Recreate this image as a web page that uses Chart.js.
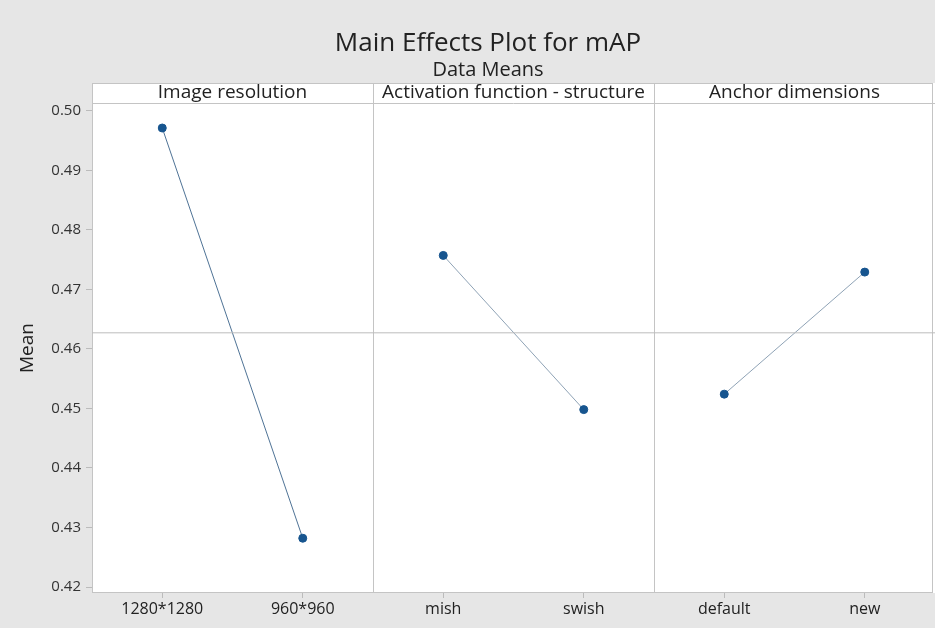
<!DOCTYPE html>
<html>
<head>
<meta charset="utf-8">
<script src="https://cdn.jsdelivr.net/npm/chart.js@4.4.1/dist/chart.umd.min.js"></script>
<style>
  html, body { margin: 0; padding: 0; background: #e6e6e6; }
  #wrap { width: 935px; height: 628px; position: relative; }
</style>
</head>
<body>
<div id="wrap"><canvas id="chart" width="935" height="628"></canvas></div>
<script>
// panels (factors) and their levels
const factors = ['Image resolution', 'Activation function - structure', 'Anchor dimensions']
const levels = [['1280*1280', '960*960'], ['mish', 'swish'], ['default', 'new']]
// means
const meanImage = [0.4971, 0.4282]
const meanActivation = [0.4757, 0.4498]
const meanAnchor = [0.4524, 0.4729]
const grandMean = 0.4627
const yTicks = [0.42, 0.43, 0.44, 0.45, 0.46, 0.47, 0.48, 0.49, 0.50]

const FONT = "'Open Sans', 'DejaVu Sans', sans-serif"
const allMeans = [meanImage, meanActivation, meanAnchor]

// level positions: each panel is one unit wide, levels at 1/4 and 3/4
const tickPos = []
const tickText = []
levels.forEach((lv, p) => lv.forEach((name, i) => {
    tickPos.push(p + (i + 0.5) / lv.length)
    tickText.push(name)
}))

const datasets = allMeans.map((vals, p) => ({
    label: factors[p],
    data: vals.map((v, i) => ({ x: p + (i + 0.5) / vals.length, y: v })),
    borderColor: p == 0 ? '#4f7396' : '#8fa3b6',
    borderWidth: 1,
    pointBackgroundColor: '#17558f',
    pointBorderColor: '#17558f',
    pointRadius: 4,
    tension: 0
}))
datasets.unshift({
    label: 'mean',
    data: [{ x: 0, y: grandMean }, { x: factors.length, y: grandMean }],
    borderColor: '#bdbdbd',
    borderWidth: 1,
    pointRadius: 0
})

const HEADER_TOP = 83

const frame = {
    id: 'frame',
    beforeDatasetsDraw(chart) {
        const { ctx, chartArea: a, scales: { x } } = chart
        ctx.save()
        ctx.fillStyle = '#ffffff'
        ctx.fillRect(a.left, HEADER_TOP, a.right - a.left, a.bottom - HEADER_TOP)
        ctx.strokeStyle = '#c4c4c4'
        ctx.lineWidth = 1
        ctx.strokeRect(a.left + 0.5, HEADER_TOP + 0.5, a.right - a.left - 3, a.bottom - HEADER_TOP - 1)
        ctx.beginPath()
        ctx.moveTo(a.left, a.top + 0.5)
        ctx.lineTo(a.right, a.top + 0.5)
        for (let p = 1; p < factors.length; p++) {
            const px = Math.round(x.getPixelForValue(p)) + 0.5
            ctx.moveTo(px, HEADER_TOP)
            ctx.lineTo(px, a.bottom)
        }
        ctx.stroke()
        // panel headers
        ctx.fillStyle = '#222'
        ctx.font = '19px ' + FONT
        ctx.textAlign = 'center'
        ctx.textBaseline = 'middle'
        factors.forEach((f, p) => {
            ctx.fillText(f, x.getPixelForValue(p + 0.5), (HEADER_TOP + a.top) / 2)
        })
        // titles
        ctx.font = '26px ' + FONT
        ctx.fillText('Main Effects Plot for mAP', 488, 44)
        ctx.font = '20px ' + FONT
        ctx.fillText('Data Means', 488, 70)
        ctx.restore()
    }
}

new Chart(document.getElementById('chart'), {
    type: 'line',
    data: { datasets: datasets },
    plugins: [frame],
    options: {
        responsive: false,
        animation: false,
        layout: { autoPadding: false, padding: { top: 103, right: 0, left: 0, bottom: 0 } },
        plugins: { legend: { display: false }, tooltip: { enabled: false } },
        scales: {
            x: {
                type: 'linear',
                min: 0,
                max: factors.length,
                afterBuildTicks: s => { s.ticks = tickPos.map(v => ({ value: v })) },
                afterFit: s => { s.height = 35; s.paddingLeft = 0; s.paddingRight = 0 },
                ticks: {
                    autoSkip: false,
                    maxRotation: 0,
                    color: '#222',
                    font: { family: FONT, size: 16 },
                    padding: 2,
                    callback: (v, i) => tickText[i]
                },
                grid: { drawOnChartArea: false, tickLength: 5, color: '#bbb' },
                border: { display: false }
            },
            y: {
                min: 0.419,
                max: 0.5013,
                afterBuildTicks: s => { s.ticks = yTicks.map(v => ({ value: v })) },
                afterFit: s => { s.width = 92; s.paddingTop = 0; s.paddingBottom = 0 },
                ticks: {
                    color: '#333',
                    font: { family: FONT, size: 15 },
                    padding: 5,
                    callback: v => v.toFixed(2)
                },
                grid: { drawOnChartArea: false, tickLength: 6, color: '#bbb' },
                border: { display: false },
                title: {
                    display: true,
                    text: 'Mean',
                    color: '#222',
                    font: { family: FONT, size: 19 },
                    padding: { top: 16, bottom: 0 }
                }
            }
        }
    }
})
</script>
</body>
</html>
